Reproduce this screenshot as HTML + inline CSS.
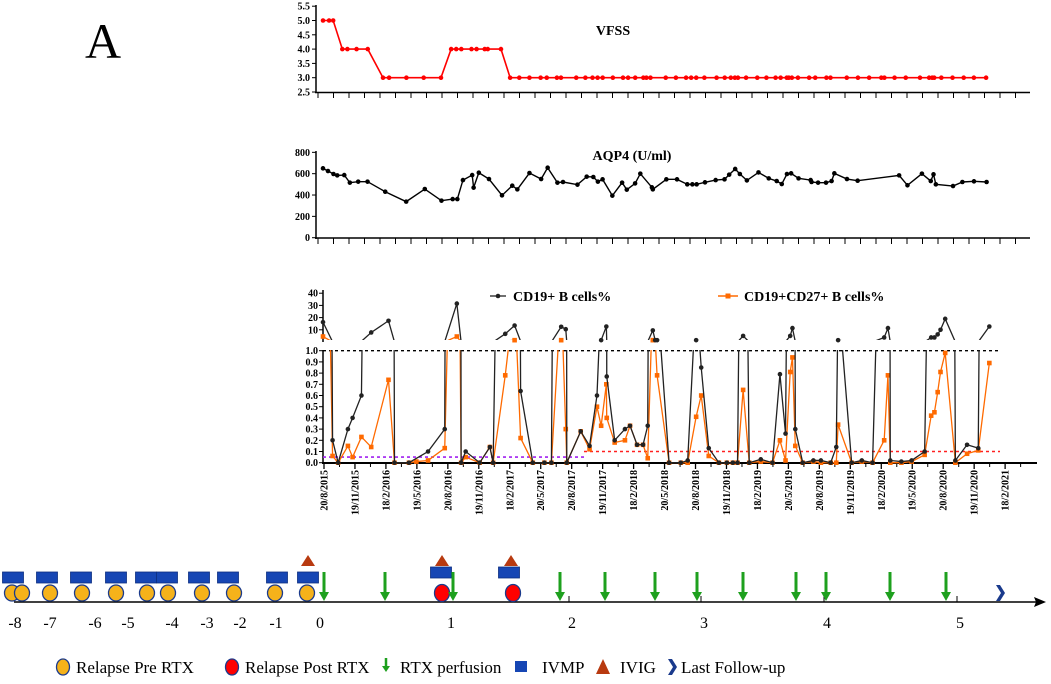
<!DOCTYPE html>
<html><head><meta charset="utf-8"><style>
html,body{margin:0;padding:0;background:#fff;}
svg{display:block;font-family:"Liberation Serif",serif;}
</style></head><body>
<svg id="c" width="1051" height="684" viewBox="0 0 1051 684" xmlns="http://www.w3.org/2000/svg">
<text x="85" y="58" font-size="50">A</text>
<g id="vfss"></g>
<g id="aqp"></g>
<g id="bc"></g>
<g id="tl"></g>
<g id="lg"></g>
</svg>
<script>
// months since 20/8/2015
const vfssMonths=[0,0.6,1.0,1.9,2.4,3.3,4.4,5.9,6.5,8.2,9.9,11.6,12.6,13.1,13.6,14.6,15.1,15.9,16.2,17.5,18.4,19.3,20.3,21.4,22.0,23.0,23.4,24.9,25.8,26.5,27.0,27.5,28.5,29.5,30.0,30.7,31.5,31.8,32.2,33.7,34.7,35.7,36.2,36.7,37.5,38.7,39.5,40.1,40.5,40.8,41.6,42.7,43.6,44.5,45.0,45.6,45.8,46.1,46.7,47.8,48.4,49.5,49.9,51.5,52.6,53.7,54.9,55.2,56.2,57.3,58.7,59.6,59.9,60.1,60.8,61.9,63.0,64.0,65.2];
const vfssValues=[5,5,5,4,4,4,4,3,3,3,3,3,4,4,4,4,4,4,4,4,3,3,3,3,3,3,3,3,3,3,3,3,3,3,3,3,3,3,3,3,3,3,3,3,3,3,3,3,3,3,3,3,3,3,3,3,3,3,3,3,3,3,3,3,3,3,3,3,3,3,3,3,3,3,3,3,3,3,3];
const vfssTicks=["2.5","3.0","3.5","4.0","4.5","5.0","5.5"];
const aqpMonths=[0,0.49,1.03,1.40,2.09,2.64,3.46,4.38,6.12,8.18,10.01,11.65,12.75,13.21,13.76,14.67,14.81,15.32,16.32,17.60,18.61,19.11,20.30,21.45,22.09,23.05,23.60,25.02,25.93,26.58,27.03,27.49,28.45,29.41,29.87,30.69,31.20,32.34,32.43,33.76,34.81,35.82,36.32,36.74,37.56,38.61,39.48,39.94,40.53,40.99,41.68,42.82,43.83,44.61,45.11,45.62,46.03,46.76,47.95,48.04,48.68,49.46,50.01,50.28,51.52,52.57,56.65,57.47,58.89,59.76,60.03,60.26,61.95,62.87,64.01,65.25];
const aqpValues=[650,625,597,584,587,516,525,525,431,338,456,347,362,362,540,587,469,609,550,397,487,453,606,550,656,516,522,497,572,569,525,547,394,516,450,509,600,472,453,547,547,500,500,500,519,540,547,591,644,597,537,612,556,531,503,597,603,556,540,522,516,516,531,603,550,534,584,491,600,531,594,500,484,522,528,522];
const aqpTicks=[0,200,400,600,800];
const cellMonths=[0,0.94,1.49,2.45,2.91,3.78,4.74,6.44,7.03,8.45,9.18,10.33,11.97,13.16,13.58,14.03,15.41,16.41,16.73,17.92,18.84,19.43,20.63,21.77,22.46,23.42,23.87,23.97,25.34,26.21,26.94,27.35,27.86,27.90,28.68,29.69,30.19,30.88,31.47,31.93,32.43,32.66,32.85,34.03,35.18,35.86,36.69,37.19,37.93,38.93,39.71,40.30,40.76,41.31,41.91,43.05,44.20,44.93,45.48,45.94,46.16,46.44,47.17,48.22,48.96,49.92,50.47,50.65,51.98,52.98,54.04,55.18,55.55,55.78,56.87,57.88,59.16,59.80,60.12,60.44,60.72,61.18,62.18,63.33,64.43,65.52];
const cd19=[16.3,0.2,0,0.3,0.4,0.6,7.8,17.4,0,0,null,0.1,0.3,31.5,0,0.1,0,0.14,0,6.7,13.5,0.64,0,0,0,12.5,10.5,0,0.28,0.15,0.6,1.5,12.7,0.77,0.2,0.3,0.33,0.16,0.16,0.33,9.5,1.5,1.5,0,0,0.02,1.5,0.85,0.13,0,0,0,0,5,0,0.03,0,0.79,0.26,5,11.4,0.3,0,0.02,0.02,0,0.14,1.5,0,0.02,0,3.7,11.4,0.02,0.01,0.02,0.1,3.7,3.7,6.2,10,19,0.02,0.16,0.13,12.7];
const cd27=[4.5,0.06,0,0.15,0.05,0.23,0.14,0.74,0,0,0.01,0.02,0.13,4.5,0,0.05,0,0.14,0,0.78,1.5,0.22,0,0,0,1.5,0.3,0,0.28,0.12,0.5,0.33,0.7,0.4,0.18,0.2,0.33,0.16,0.16,0.04,1.5,null,0.78,0,0,0,0.41,0.6,0.06,0,0,0,0,0.65,0,0.01,0,0.2,0.02,0.81,0.94,0.15,0,0.01,0,0,0,0.34,0,0.01,0,0.2,0.78,0,0,0.01,0.07,0.42,0.45,0.63,0.81,0.98,0,0.08,0.11,0.89];
const lowTicks=["0.0","0.1","0.2","0.3","0.4","0.5","0.6","0.7","0.8","0.9","1.0"];
const highTicks=[10,20,30,40];
const dateLabels=["20/8/2015","19/11/2015","18/2/2016","19/5/2016","20/8/2016","19/11/2016","18/2/2017","20/5/2017","20/8/2017","19/11/2017","18/2/2018","20/5/2018","20/8/2018","19/11/2018","18/2/2019","20/5/2019","20/8/2019","19/11/2019","18/2/2020","19/5/2020","20/8/2020","19/11/2020","18/2/2021"];
// timeline (years relative to first RTX)
const tlLabels=["-8","-7","-6","-5","-4","-3","-2","-1","0","1","2","3","4","5"];
const tlLabelX=[15,50,95,128,172,207,240,276,320,451,572,704,827,960];
const relapsePreX=[12,22,50,82,116,147,168,202,234,275,307];
const relapsePostX=[442,513];
const ivmpX=[13,47,81,116,146,167,199,228,277,308,441,509];
const ivigX=[308,442,511];
const rtxX=[324,385,453,560,605,655,697,743,796,826,890,946];

const NS="http://www.w3.org/2000/svg";
function mk(parent,tag,attrs,text){const e=document.createElementNS(NS,tag);for(const k in attrs)e.setAttribute(k,attrs[k]);if(text!==undefined)e.textContent=text;parent.appendChild(e);return e;}
const xs=m=>323+m*10.17;

// ---- VFSS ----
const gv=document.getElementById('vfss');
const yv=v=>92-(v-2.5)*28.6;
mk(gv,'line',{x1:316,y1:5,x2:316,y2:93,stroke:'#000','stroke-width':1.5});
mk(gv,'line',{x1:315,y1:92.5,x2:1030,y2:92.5,stroke:'#000','stroke-width':1.5});
vfssTicks.forEach(t=>{const y=yv(+t);mk(gv,'line',{x1:312,y1:y,x2:316,y2:y,stroke:'#000'});
 const tx=mk(gv,'text',{x:310,y:y+3.5,'font-size':10,'font-weight':'bold','text-anchor':'end'},t);
 });
for(let x=318;x<1030;x+=15.5)mk(gv,'line',{x1:x,y1:92,x2:x,y2:98,stroke:'#000'});
const tv=mk(gv,'text',{x:613,y:35,'font-size':14,'font-weight':'bold','text-anchor':'middle'},'VFSS');

const pv=mk(gv,'polyline',{points:vfssMonths.map((m,i)=>xs(m)+','+yv(vfssValues[i])).join(' '),fill:'none',stroke:'#ff0000','stroke-width':1.6});

vfssMonths.forEach((m,i)=>{const c=mk(gv,'circle',{cx:xs(m),cy:yv(vfssValues[i]),r:2.3,fill:'#ff0000'});
 });

// ---- AQP4 ----
const ga=document.getElementById('aqp');
const ya=v=>237.7-v*0.1067;
mk(ga,'line',{x1:316,y1:151,x2:316,y2:239,stroke:'#000','stroke-width':1.5});
mk(ga,'line',{x1:315,y1:238,x2:1030,y2:238,stroke:'#000','stroke-width':1.5});
aqpTicks.forEach(t=>{const y=ya(t);mk(ga,'line',{x1:312,y1:y,x2:316,y2:y,stroke:'#000'});
 const tx=mk(ga,'text',{x:310,y:y+3.5,'font-size':10,'font-weight':'bold','text-anchor':'end'},t);
 });
for(let x=318;x<1030;x+=15.5)mk(ga,'line',{x1:x,y1:238,x2:x,y2:244,stroke:'#000'});
const ta=mk(ga,'text',{x:632,y:160,'font-size':14,'font-weight':'bold','text-anchor':'middle'},'AQP4 (U/ml)');

const pa=mk(ga,'polyline',{points:aqpMonths.map((m,i)=>xs(m)+','+ya(aqpValues[i])).join(' '),fill:'none',stroke:'#000','stroke-width':1.4});

aqpMonths.forEach((m,i)=>{const c=mk(ga,'circle',{cx:xs(m),cy:ya(aqpValues[i]),r:2.3,fill:'#000'});
 });

// ---- B cells ----
const gb=document.getElementById('bc');
const yLow=v=>462.7-v*112;
const yHigh=v=>342-v*1.22;
const defs=mk(gb,'defs',{});
const c1=mk(defs,'clipPath',{id:'clipLow'});mk(c1,'rect',{x:300,y:350,width:720,height:120});
const c2=mk(defs,'clipPath',{id:'clipHigh'});mk(c2,'rect',{x:300,y:280,width:720,height:60});
// axes
mk(gb,'line',{x1:323,y1:350,x2:323,y2:463.5,stroke:'#000','stroke-width':1.5});
mk(gb,'line',{x1:323,y1:290,x2:323,y2:342,stroke:'#000','stroke-width':1.5});
mk(gb,'line',{x1:322,y1:463,x2:1037,y2:463,stroke:'#000','stroke-width':2});
lowTicks.forEach(t=>{const y=yLow(+t);mk(gb,'line',{x1:319,y1:y,x2:323,y2:y,stroke:'#000'});
 const tx=mk(gb,'text',{x:318,y:y+3.5,'font-size':10,'font-weight':'bold','text-anchor':'end'},t);
 });
highTicks.forEach(t=>{const y=yHigh(t);mk(gb,'line',{x1:319,y1:y,x2:323,y2:y,stroke:'#000'});
 const tx=mk(gb,'text',{x:318,y:y+3.5,'font-size':10,'font-weight':'bold','text-anchor':'end'},t);
 });
dateLabels.forEach((d,k)=>{const x=324+k*30.96;
 mk(gb,'line',{x1:x,y1:463,x2:x,y2:469,stroke:'#000','stroke-width':1.3});
 const tx=mk(gb,'text',{x:0,y:0,'font-size':10,'font-weight':'bold','text-anchor':'end',transform:`translate(${x+3.5},470) rotate(-90)`},d);
 });
for(let k=0;k<23;k++){const x=324+k*30.96+15.5;if(x<1035)mk(gb,'line',{x1:x,y1:463,x2:x,y2:467,stroke:'#000'});}
// reference lines
const r1=mk(gb,'line',{x1:323,y1:yLow(1),x2:1000,y2:yLow(1),stroke:'#000','stroke-width':1.3,'stroke-dasharray':'3,3'});

const r2=mk(gb,'line',{x1:323,y1:yLow(0.05),x2:584,y2:yLow(0.05),stroke:'#a020f0','stroke-width':1.6,'stroke-dasharray':'3,3'});

const r3=mk(gb,'line',{x1:584,y1:yLow(0.1),x2:1000,y2:yLow(0.1),stroke:'#ff2020','stroke-width':1.6,'stroke-dasharray':'3,3'});

function series(vals,color,name,shape){
 const pts=[];cellMonths.forEach((m,i)=>{if(vals[i]!==null)pts.push([m,vals[i]]);});
 [['clipLow',yLow],['clipHigh',yHigh]].forEach(([cp,yf])=>{
  const p=mk(gb,'polyline',{points:pts.map(q=>xs(q[0])+','+yf(q[1])).join(' '),fill:'none',stroke:color,'stroke-width':1.3,'clip-path':`url(#${cp})`});
  });
 pts.forEach(q=>{const y=q[1]>1?yHigh(q[1]):yLow(q[1]);let e;
  if(shape==='c')e=mk(gb,'circle',{cx:xs(q[0]),cy:y,r:2.3,fill:color});
  else e=mk(gb,'rect',{x:xs(q[0])-2.3,y:y-2.3,width:4.6,height:4.6,fill:color});
  });
}
series(cd27,'#ff6a00','cd27','s');
series(cd19,'#222','cd19','c');
// legend
mk(gb,'line',{x1:490,y1:296,x2:506,y2:296,stroke:'#222','stroke-width':1.3});
mk(gb,'circle',{cx:498,cy:296,r:2.3,fill:'#222'});
const l1=mk(gb,'text',{x:513,y:301,'font-size':14,'font-weight':'bold'},'CD19+ B cells%');

mk(gb,'line',{x1:718,y1:296,x2:738,y2:296,stroke:'#ff6a00','stroke-width':1.6});
mk(gb,'rect',{x:725.5,y:293.5,width:5,height:5,fill:'#ff6a00'});
const l2=mk(gb,'text',{x:744,y:301,'font-size':14,'font-weight':'bold'},'CD19+CD27+ B cells%');


// ---- timeline ----
const gt=document.getElementById('tl');
const ax=mk(gt,'line',{x1:14,y1:602,x2:1038,y2:602,stroke:'#000','stroke-width':1.6});

mk(gt,'path',{d:'M1046,602 L1034,597 L1036,602 L1034,607 Z',fill:'#000'});
tlLabels.forEach((t,i)=>{const tx=mk(gt,'text',{x:tlLabelX[i],y:628,'font-size':16,'text-anchor':'middle'},t);
 
 if(i>9)mk(gt,'line',{x1:tlLabelX[i]-3,y1:596,x2:tlLabelX[i]-3,y2:602,stroke:'#000'});});
ivmpX.forEach((x,i)=>{const y=i<10?572:(567);const r=mk(gt,'rect',{x:x-10.5,y:y,width:21,height:11,fill:'#1646b4',stroke:'#0d2f80','stroke-width':0.8});
 });
relapsePreX.forEach(x=>{const c=mk(gt,'ellipse',{cx:x,cy:593,rx:7.5,ry:8,fill:'#f5b21a',stroke:'#1a3a8c','stroke-width':1.3});
 });
relapsePostX.forEach(x=>{const c=mk(gt,'ellipse',{cx:x,cy:593,rx:7.5,ry:8.5,fill:'#ff0000',stroke:'#1a3a8c','stroke-width':1.3});
 });
ivigX.forEach(x=>{const t=mk(gt,'path',{d:`M${x},555 L${x+7},566 L${x-7},566 Z`,fill:'#b83a10'});
 });
rtxX.forEach(x=>{const g=mk(gt,'g',{});
 
 mk(g,'line',{x1:x,y1:572,x2:x,y2:594,stroke:'#1ea01e','stroke-width':3});
 mk(g,'path',{d:`M${x-5},592 L${x+5},592 L${x},601 Z`,fill:'#1ea01e'});});
const ch=mk(gt,'path',{d:'M996,585 L1000,585 L1005,593 L1000,601 L996,601 L1001,593 Z',fill:'#1a3a8c'});


// ---- legend ----
const gl=document.getElementById('lg');
function li(name,label,tx){const t=mk(gl,'text',{x:tx,y:673,'font-size':17},label);}
mk(gl,'ellipse',{cx:63,cy:667,rx:6.5,ry:8,fill:'#f5b21a',stroke:'#1a3a8c','stroke-width':1.3});
li('legend-relapse-pre','Relapse Pre RTX',76);
mk(gl,'ellipse',{cx:232,cy:667,rx:6.5,ry:8,fill:'#ff0000',stroke:'#1a3a8c','stroke-width':1.3});
li('legend-relapse-post','Relapse Post RTX',245);
mk(gl,'line',{x1:386,y1:658,x2:386,y2:667,stroke:'#1ea01e','stroke-width':2.5});
mk(gl,'path',{d:'M382,666 L390,666 L386,672 Z',fill:'#1ea01e'});
li('legend-rtx','RTX perfusion',400);
mk(gl,'rect',{x:515,y:661,width:12,height:11,fill:'#1646b4'});
li('legend-ivmp','IVMP',542);
mk(gl,'path',{d:'M603,659 L610,674 L596,674 Z',fill:'#b83a10'});
li('legend-ivig','IVIG',620);
mk(gl,'path',{d:'M668,659 L672,659 L677,667 L672,675 L668,675 L673,667 Z',fill:'#1a3a8c'});
li('legend-last-follow-up','Last Follow-up',681);
</script>
</body></html>
